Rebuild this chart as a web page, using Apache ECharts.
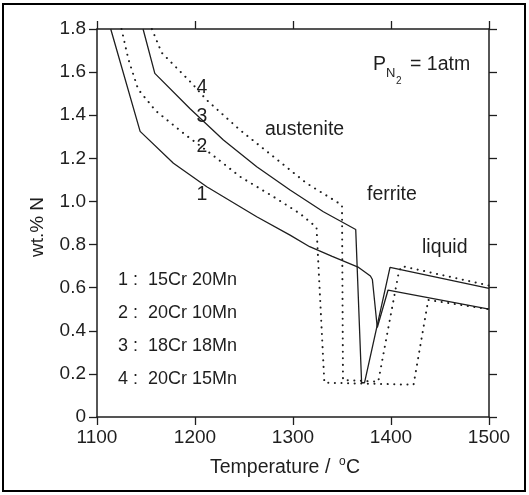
<!DOCTYPE html>
<html>
<head>
<meta charset="utf-8">
<script src="https://cdn.jsdelivr.net/npm/echarts@6/dist/echarts.min.js"></script>
<style>
  html, body { margin: 0; padding: 0; background: #fff; }
  #chart { width: 529px; height: 495px; }
</style>
</head>
<body>
<div id="chart"></div>
<script>
// axis ticks
var xTicks = [1100, 1200, 1300, 1400, 1500]
var yTicks = [0, 0.2, 0.4, 0.6, 0.8, 1.0, 1.2, 1.4, 1.6, 1.8]

// 1 : 15Cr 20Mn (solid)
var curve1T = [1114, 1144, 1178, 1212, 1229, 1263, 1297, 1317, 1340, 1367, 1379, 1381, 1386, 1397, 1500]
var curve1N = [1.8, 1.325, 1.177, 1.068, 1.022, 0.929, 0.844, 0.79, 0.745, 0.694, 0.654, 0.638, 0.415, 0.589, 0.50]
// 2 : 20Cr 10Mn (dotted)
var curve2T = [1125, 1132, 1142, 1160, 1190, 1220, 1246, 1280, 1307, 1324, 1332, 1423, 1438, 1500]
var curve2N = [1.8, 1.66, 1.52, 1.42, 1.31, 1.208, 1.115, 1.022, 0.944, 0.88, 0.159, 0.15, 0.543, 0.50]
// 3 : 18Cr 18Mn (solid)
var curve3T = [1147, 1159, 1195, 1229, 1263, 1297, 1331, 1364, 1370, 1373, 1399, 1500]
var curve3N = [1.8, 1.594, 1.43, 1.285, 1.161, 1.053, 0.952, 0.87, 0.159, 0.159, 0.694, 0.597]
// 4 : 20Cr 15Mn (dotted)
var curve4T = [1156, 1166, 1197, 1212, 1246, 1280, 1314, 1350, 1351, 1387, 1408, 1411, 1500]
var curve4N = [1.8, 1.69, 1.547, 1.47, 1.331, 1.208, 1.084, 0.983, 0.172, 0.164, 0.674, 0.70, 0.61]

var legendLines = ['1 :  15Cr 20Mn', '2 :  20Cr 10Mn', '3 :  18Cr 18Mn', '4 :  20Cr 15Mn']
var curveNames = ['1', '2', '3', '4']

function zip (t, n) {
  var out = []
  for (var i = 0; i < t.length; i++) out.push([t[i], n[i]])
  return out
}

var FONT = 'Liberation Sans, Arial, sans-serif'
var INK = '#1e1e1e'

var myChart = echarts.init(document.getElementById('chart'))

var axisBase = {
  type: 'value',
  axisLine: { show: true, onZero: false, lineStyle: { color: INK, width: 1.5 } },
  axisTick: { show: true, inside: false, length: 8, lineStyle: { color: INK, width: 1.3 } },
  splitLine: { show: false }
}

function lineSeries (name, t, n, dotted) {
  return {
    name: name,
    type: 'line',
    data: zip(t, n),
    showSymbol: false,
    symbol: 'none',
    silent: true,
    animation: false,
    lineStyle: dotted
      ? { color: INK, width: 2, type: [0.1, 6.5], cap: 'round' }
      : { color: INK, width: 1.3 }
  }
}

var graphics = [
  { type: 'rect', shape: { x: 3, y: 4, width: 522, height: 487 }, style: { fill: 'none', stroke: '#000', lineWidth: 2 } },
  { type: 'text', x: 38, y: 227, rotation: Math.PI / 2, style: { text: 'wt.% N', font: '19px ' + FONT, fill: INK, align: 'center', verticalAlign: 'middle' } },
  { type: 'text', x: 210, y: 468, style: { text: 'Temperature / ', font: '19.5px ' + FONT, fill: INK, align: 'left', verticalAlign: 'middle' } },
  { type: 'text', x: 339, y: 462, style: { text: 'o', font: '12px ' + FONT, fill: INK, align: 'left', verticalAlign: 'middle' } },
  { type: 'text', x: 346, y: 468, style: { text: 'C', font: '19.5px ' + FONT, fill: INK, align: 'left', verticalAlign: 'middle' } },
  { type: 'text', x: 373, y: 65, style: { text: 'P', font: '19.5px ' + FONT, fill: INK, verticalAlign: 'middle' } },
  { type: 'text', x: 386, y: 73, style: { text: 'N', font: '13px ' + FONT, fill: INK, verticalAlign: 'middle' } },
  { type: 'text', x: 396, y: 81, style: { text: '2', font: '10px ' + FONT, fill: INK, verticalAlign: 'middle' } },
  { type: 'text', x: 410, y: 65, style: { text: '= 1atm', font: '19.5px ' + FONT, fill: INK, verticalAlign: 'middle' } },
  { type: 'text', x: 265, y: 130, style: { text: 'austenite', font: '19.5px ' + FONT, fill: INK, verticalAlign: 'middle' } },
  { type: 'text', x: 367, y: 195, style: { text: 'ferrite', font: '19.5px ' + FONT, fill: INK, verticalAlign: 'middle' } },
  { type: 'text', x: 422, y: 248, style: { text: 'liquid', font: '19.5px ' + FONT, fill: INK, verticalAlign: 'middle' } }
]

var curveLabelY = [195, 147, 117, 88]
for (var k = 0; k < curveNames.length; k++) {
  graphics.push({ type: 'text', x: 202, y: curveLabelY[k], style: { text: curveNames[k], font: '19.5px ' + FONT, fill: INK, align: 'center', verticalAlign: 'middle' } })
}
for (var j = 0; j < legendLines.length; j++) {
  graphics.push({ type: 'text', x: 118, y: 280 + j * 33, style: { text: legendLines[j], font: '18px ' + FONT, fill: INK, verticalAlign: 'middle' } })
}

var option = {
  backgroundColor: '#fff',
  animation: false,
  grid: { left: 97, right: 40, top: 29, bottom: 78 },
  xAxis: [
    Object.assign({}, axisBase, {
      min: xTicks[0], max: xTicks[xTicks.length - 1], interval: 100,
      position: 'bottom',
      axisLabel: {
        color: INK, fontSize: 19, fontFamily: FONT, margin: 11,
        formatter: function (v) { return String(v) }
      }
    }),
    Object.assign({}, axisBase, {
      min: xTicks[0], max: xTicks[xTicks.length - 1], interval: 100,
      position: 'top',
      axisLabel: { show: false }
    })
  ],
  yAxis: [
    Object.assign({}, axisBase, {
      min: yTicks[0], max: yTicks[yTicks.length - 1], interval: 0.2,
      position: 'left',
      axisLabel: {
        color: INK, fontSize: 19, fontFamily: FONT, margin: 11,
        formatter: function (v) { return v === 0 ? '0' : v.toFixed(1) }
      }
    }),
    Object.assign({}, axisBase, {
      min: yTicks[0], max: yTicks[yTicks.length - 1], interval: 0.2,
      position: 'right',
      axisLabel: { show: false }
    })
  ],
  series: [
    lineSeries('1', curve1T, curve1N, false),
    lineSeries('2', curve2T, curve2N, true),
    lineSeries('3', curve3T, curve3N, false),
    lineSeries('4', curve4T, curve4N, true)
  ],
  graphic: graphics
}

myChart.setOption(option)
</script>
</body>
</html>
